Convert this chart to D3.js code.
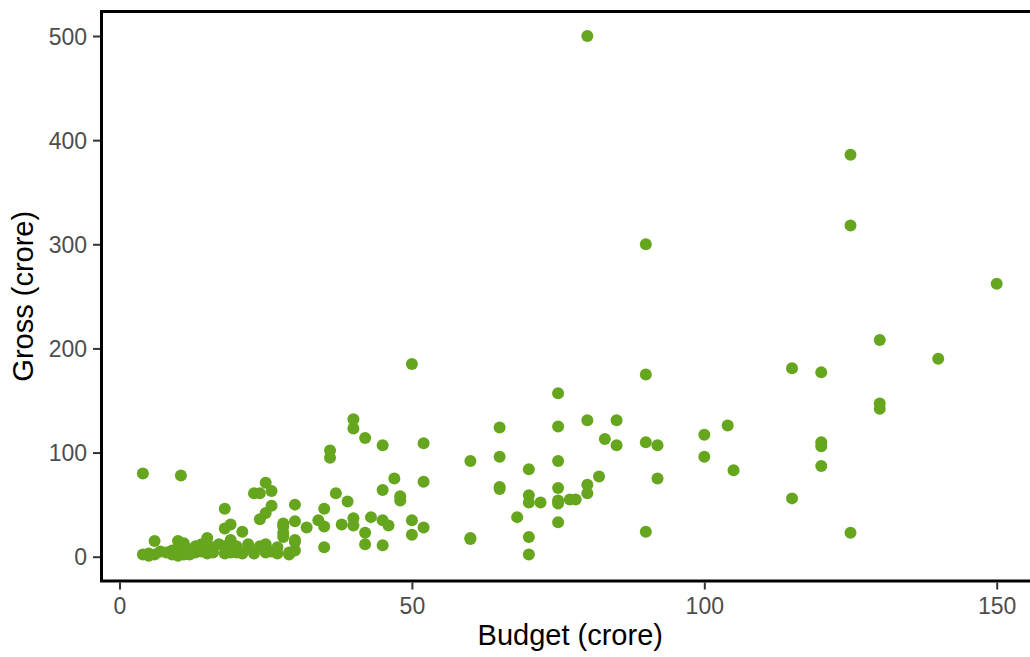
<!DOCTYPE html>
<html>
<head>
<meta charset="utf-8">
<script src="https://cdn.jsdelivr.net/npm/d3@7"></script>
<style>
  html, body { margin:0; padding:0; background:#fff; }
  svg { display:block; font-family:"Liberation Sans", Arial, sans-serif; }
</style>
</head>
<body>
<svg id="chart" width="1030" height="657"></svg>
<script>
// budget (crore) and gross (crore)
const budget = [
  80,125,125,90,150,130,140,50,115,120,90,75,130,130,40,80,85,40,104,65,75,42,83,100,
  36,36,45,52,85,90,92,120,120,100,65,60,75,105,120,70,4,10.5,92,65,65,82,80,80,75,70,
  70,72,75,75,77,78,68,75,60,60,70,70,90,115,125,47,52,45,48,48,37,39,30,35,34,35,
  38,40,40,43,45,46,42,42,45,50,52,50,35,32,28,30,30,30,29,28,25,23,24,26,18,26,25,
  24,19,18,21,28,28,6,10,15,
  4,5,5,6,7,8,9,9,10,10,10,11,11,12,12,13,13,14,14,15,15,16,16,17,18,18,19,19,
  20,20,21,22,22,23,24,25,25,26,27,27,29,30,20
];
const gross = [
  500,386,318,300,262,208,190,185,181,177,175,157,147,142,132,131,131,123,126,124,125,114,113,117,
  102,95,107,109,107,110,107,110,106,96,96,92,92,83,87,84,80,78,75,67,65,77,69,61,66,59,
  52,52,54,51,55,55,38,33,18,17,19,2,24,56,23,75,72,64,58,54,61,53,50,46,35,29,
  31,37,30,38,35,30,23,12,11,35,28,21,9,28,29,34,16,6,4,19,71,61,61,63,46,49,42,
  36,31,27,24,32,23,15,15,18,
  2,1,3,2,5,4,2,6,1,8,3,2,13,6,2,10,4,12,5,7,3,9,4,12,3,10,4,16,5,
  10,3,8,12,3,10,4,12,5,9,3,2,14,4,20
];

const xTicks = [0, 50, 100, 150];
const yTicks = [0, 100, 200, 300, 400, 500];

const svg = d3.select('#chart');
const panel = {l:101.5, t:11.5, r:1039, b:581};

const x = d3.scaleLinear().domain([0,150]).range([119.5, 996.7]);
const y = d3.scaleLinear().domain([0,500]).range([556.7, 36]);

// points
const pts = budget.map((b,i)=>({b, g:gross[i]}));
svg.append('g').selectAll('circle').data(pts).enter().append('circle')
  .attr('cx', d=>x(d.b))
  .attr('cy', d=>y(d.g))
  .attr('r', 6)
  .attr('fill', '#66a61e');

// panel border (left, top, bottom visible)
svg.append('rect')
  .attr('x', panel.l).attr('y', panel.t)
  .attr('width', panel.r-panel.l).attr('height', panel.b-panel.t)
  .attr('fill','none').attr('stroke','#000').attr('stroke-width',3);

// axes
const ax = d3.axisBottom(x).tickValues(xTicks).tickSize(7).tickPadding(6);
const ay = d3.axisLeft(y).tickValues(yTicks).tickSize(7).tickPadding(6);

const gx = svg.append('g').attr('transform',`translate(0,${panel.b+1.5})`).call(ax);
const gy = svg.append('g').attr('transform',`translate(${panel.l-1.5},0)`).call(ay);
[gx, gy].forEach(g=>{
  g.select('.domain').remove();
  g.selectAll('line').attr('stroke','#333').attr('stroke-width',2);
  g.selectAll('text').attr('fill','#4d4d4d').style('font-size','23px')
    .style('font-family','"Liberation Sans", Arial, sans-serif');
});
gx.selectAll('text').attr('dy', null).attr('y', 31.5);
gy.selectAll('text').attr('dy','0.36em');

// titles
svg.append('text')
  .attr('x', (panel.l+panel.r)/2).attr('y', 645)
  .attr('text-anchor','middle').attr('fill','#000')
  .style('font-size','29px')
  .text('Budget (crore)');
svg.append('text')
  .attr('transform',`translate(33,${(panel.t+panel.b)/2}) rotate(-90)`)
  .attr('text-anchor','middle').attr('fill','#000')
  .style('font-size','29px')
  .text('Gross (crore)');
</script>
</body>
</html>
